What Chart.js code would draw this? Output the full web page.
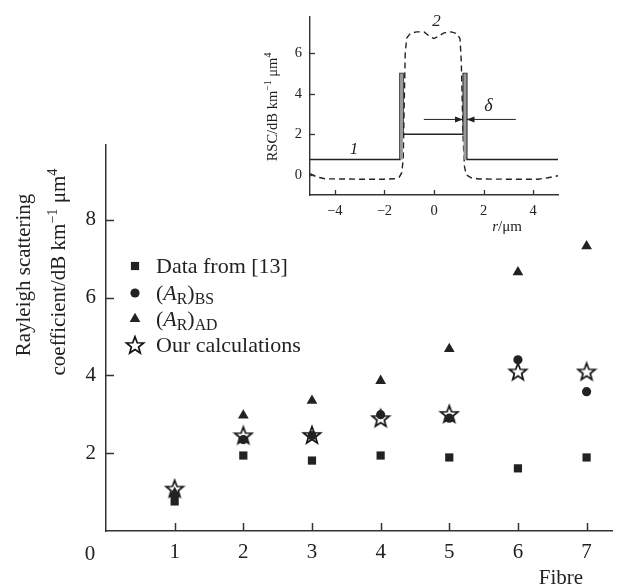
<!DOCTYPE html>
<html>
<head>
<meta charset="utf-8">
<script src="https://cdn.jsdelivr.net/npm/chart.js@4.4.1/dist/chart.umd.min.js"></script>
<style>
  body { margin: 0; background: #fff; }
  #wrap { position: relative; width: 621px; height: 587px; }
  #main { position: absolute; left: 0; top: 0; }
  #inset { position: absolute; left: 230px; top: 0; }
</style>
</head>
<body>
<div id="wrap">
  <canvas id="main" width="621" height="587"></canvas>
  <canvas id="inset" width="391" height="240"></canvas>
</div>
<script>
// Datos de la gráfica principal
var fibres = [1, 2, 3, 4, 5, 6, 7];
var data13 = [0.76, 1.94, 1.81, 1.94, 1.89, 1.61, 1.89];
var arBS = [0.92, 2.35, 2.45, 2.99, 2.90, 4.40, 3.58];
var arAD = [0.98, 2.97, 3.35, 3.86, 4.68, 6.65, 7.32];
var ourCalc = [1.09, 2.46, 2.47, 2.90, 3.01, 4.10, 4.10];
var xTickVals = [1, 2, 3, 4, 5, 6, 7];
var yTickVals = [2, 4, 6, 8];

// Datos del recuadro (perfil RSC)
var r1 = [-5, -1.37, -1.37, -1.25, -1.25, 1.18, 1.18, 1.32, 1.32, 5];
var rsc1 = [0.75, 0.75, 5, 5, 2, 2, 5, 5, 0.75, 0.75];
var spikeL = [-1.37, -1.25];
var spikeR = [1.18, 1.32];
var spikeTop = [5, 5];
var r2 = [-5, -4.7, -4.4, -3, -2, -1.6, -1.4, -1.3, -1.24, -1.2, -1.16, -1.1, -0.95, -0.7, -0.4, -0.2, 0, 0.2, 0.4, 0.7, 0.95, 1.05, 1.1, 1.14, 1.18, 1.23, 1.3, 1.5, 1.8, 3, 4.2, 4.6, 5];
var rsc2 = [0.05, -0.12, -0.2, -0.22, -0.22, -0.2, -0.12, 0.1, 0.8, 3.6, 6.0, 6.75, 6.98, 7.05, 7.05, 6.85, 6.72, 6.85, 7.0, 7.05, 6.95, 6.7, 5.6, 3.5, 1.6, 0.4, 0, -0.15, -0.21, -0.22, -0.22, -0.15, -0.05];
var deltaLeft = [-0.41, 1.17];
var deltaRight = [3.3, 1.31];
var deltaY = 2.73;
var insetXTicks = [-4, -2, 0, 2, 4];
var insetYTicks = [0, 2, 4, 6];

var INK = '#222';
var SERIF = '"Liberation Serif", "Times New Roman", serif';

function pts(xs, ys) {
  return xs.map(function (x, i) { return { x: x, y: ys[i] }; });
}
function fixedTicks(vals) {
  return function (scale) {
    scale.ticks = vals.map(function (v) { return { value: v }; });
  };
}

// estrella de cinco puntas (contorno)
function makeStar(rOut) {
  var c = document.createElement('canvas');
  var s = Math.ceil(rOut * 2 + 4);
  c.width = s; c.height = s;
  var g = c.getContext('2d');
  var rIn = rOut * 0.42;
  g.beginPath();
  for (var k = 0; k < 10; k++) {
    var r = k % 2 === 0 ? rOut : rIn;
    var a = -Math.PI / 2 + k * Math.PI / 5;
    var px = s / 2 + r * Math.cos(a), py = s / 2 + r * Math.sin(a) + 0.8;
    if (k === 0) g.moveTo(px, py); else g.lineTo(px, py);
  }
  g.closePath();
  g.strokeStyle = '#111';
  g.lineWidth = 1.7;
  g.lineJoin = 'miter';
  g.stroke();
  return c;
}
var starImg = makeStar(9);

function fontFor(style, size) {
  var sz = style === 'sup' ? size * 0.68 : (style === 'sub' ? size * 0.72 : size);
  var it = style === 'i' ? 'italic ' : '';
  return it + sz.toFixed(1) + 'px ' + SERIF;
}
function richText(ctx, parts, x, y, size, align) {
  var widths = parts.map(function (p) {
    ctx.font = fontFor(p[1], size);
    return ctx.measureText(p[0]).width;
  });
  var total = widths.reduce(function (a, b) { return a + b; }, 0);
  var cx = align === 'center' ? x - total / 2 : x;
  ctx.textAlign = 'left';
  ctx.textBaseline = 'alphabetic';
  parts.forEach(function (p, i) {
    ctx.font = fontFor(p[1], size);
    var dy = p[1] === 'sup' ? -size * 0.38 : (p[1] === 'sub' ? size * 0.2 : 0);
    ctx.fillText(p[0], cx, y + dy);
    cx += widths[i];
  });
}

// marcas de escala hacia dentro
var inwardTicks = {
  id: 'inwardTicks',
  afterDraw: function (chart, args, opts) {
    var ctx = chart.ctx, a = chart.chartArea;
    var xs = chart.scales.x, ys = chart.scales.y;
    ctx.save();
    ctx.strokeStyle = '#333';
    ctx.lineWidth = opts.width;
    opts.xTicks.forEach(function (v) {
      var px = Math.round(xs.getPixelForValue(v)) + 0.5;
      ctx.beginPath(); ctx.moveTo(px, a.bottom); ctx.lineTo(px, a.bottom - opts.len); ctx.stroke();
    });
    opts.yTicks.forEach(function (v) {
      var py = Math.round(ys.getPixelForValue(v)) + 0.5;
      ctx.beginPath(); ctx.moveTo(a.left, py); ctx.lineTo(a.left + opts.len, py); ctx.stroke();
    });
    ctx.restore();
  }
};

// textos de la gráfica principal
var mainText = {
  id: 'mainText',
  afterDraw: function (chart) {
    var ctx = chart.ctx;
    ctx.save();
    ctx.fillStyle = INK;
    // título del eje y (dos líneas)
    ctx.save();
    ctx.translate(30, 275);
    ctx.rotate(-Math.PI / 2);
    richText(ctx, [['Rayleigh scattering', '']], 0, 0, 21, 'center');
    ctx.restore();
    ctx.save();
    ctx.translate(65, 272);
    ctx.rotate(-Math.PI / 2);
    richText(ctx, [['coefficient/dB km', ''], ['\u22121', 'sup'], [' \u03bcm', ''], ['4', 'sup']], 0, 0, 21, 'center');
    ctx.restore();
    // "0" en la esquina y "Fibre"
    richText(ctx, [['0', '']], 90, 560, 21, 'center');
    richText(ctx, [['Fibre', '']], 561, 584, 21, 'center');
    // leyenda
    var rows = [
      { ds: 0, y: 266, parts: [['Data from [13]', '']] },
      { ds: 1, y: 293, parts: [['(', ''], ['A', 'i'], ['R', 'sub'], [')', ''], ['BS', 'sub']] },
      { ds: 2, y: 319, parts: [['(', ''], ['A', 'i'], ['R', 'sub'], [')', ''], ['AD', 'sub']] },
      { ds: 3, y: 345, parts: [['Our calculations', '']] }
    ];
    rows.forEach(function (row) {
      var d = chart.data.datasets[row.ds];
      ctx.fillStyle = INK;
      ctx.strokeStyle = INK;
      Chart.helpers.drawPoint(ctx, { pointStyle: d.pointStyle, radius: d.pointRadius, borderWidth: 0, rotation: 0 }, 135, row.y);
      richText(ctx, row.parts, 156, row.y + 7, 22, 'left');
    });
    ctx.restore();
  }
};

var markBase = { backgroundColor: INK, borderColor: INK, borderWidth: 0 };

new Chart(document.getElementById('main'), {
  type: 'scatter',
  data: {
    datasets: [
      Object.assign({ label: 'Data from [13]', data: pts(fibres, data13), pointStyle: 'rect', pointRadius: 5.8 }, markBase),
      Object.assign({ label: '(AR)BS', data: pts(fibres, arBS), pointStyle: 'circle', pointRadius: 4.6 }, markBase),
      Object.assign({ label: '(AR)AD', data: pts(fibres, arAD), pointStyle: 'triangle', pointRadius: 6.2 }, markBase),
      Object.assign({ label: 'Our calculations', data: pts(fibres, ourCalc), pointStyle: starImg, pointRadius: 9 }, markBase)
    ]
  },
  options: {
    responsive: false,
    animation: false,
    layout: { padding: { top: 145, right: 0, left: 0, bottom: 0 } },
    plugins: {
      legend: { display: false },
      tooltip: { enabled: false },
      inwardTicks: { xTicks: xTickVals, yTicks: yTickVals, len: 8, width: 1.5 }
    },
    scales: {
      x: {
        type: 'linear', min: 0, max: 7.37,
        afterBuildTicks: fixedTicks(xTickVals),
        afterFit: function (s) { s.height = 56; },
        grid: { display: true, drawOnChartArea: false, drawTicks: false },
        border: { display: true, color: '#333', width: 1.5 },
        ticks: {
          color: INK, padding: 9, maxRotation: 0, autoSkip: false,
          font: { family: SERIF, size: 21 },
          callback: function (v) { return String(v); }
        }
      },
      y: {
        min: 0, max: 9.92,
        afterBuildTicks: fixedTicks(yTickVals),
        afterFit: function (s) { s.width = 106; },
        grid: { display: true, drawOnChartArea: false, drawTicks: false },
        border: { display: true, color: '#333', width: 1.5 },
        ticks: {
          color: INK, padding: 10, autoSkip: false,
          font: { family: SERIF, size: 21 },
          callback: function (v) { return String(v); }
        }
      }
    }
  },
  plugins: [inwardTicks, mainText]
});

// textos y flechas del recuadro
var insetText = {
  id: 'insetText',
  afterDraw: function (chart) {
    var ctx = chart.ctx, xs = chart.scales.x, ys = chart.scales.y;
    ctx.save();
    ctx.fillStyle = INK;
    ctx.save();
    ctx.translate(47, 107);
    ctx.rotate(-Math.PI / 2);
    richText(ctx, [['RSC/dB km', ''], ['\u22121', 'sup'], [' \u03bcm', ''], ['4', 'sup']], 0, 0, 14.5, 'center');
    ctx.restore();
    richText(ctx, [['r', 'i'], ['/\u03bcm', '']], 277, 231, 15, 'center');
    richText(ctx, [['2', 'i']], xs.getPixelForValue(0.1), ys.getPixelForValue(7.64) + 6, 17, 'center');
    richText(ctx, [['1', 'i']], xs.getPixelForValue(-3.23), ys.getPixelForValue(1.33) + 6, 17, 'center');
    richText(ctx, [['\u03b4', 'i']], xs.getPixelForValue(2.19), ys.getPixelForValue(3.43) + 6, 18, 'center');
    // puntas de flecha
    var py = ys.getPixelForValue(deltaY);
    [[deltaLeft[1], 1], [deltaRight[1], -1]].forEach(function (h) {
      var px = xs.getPixelForValue(h[0]);
      ctx.beginPath();
      ctx.moveTo(px, py);
      ctx.lineTo(px - h[1] * 8, py - 3);
      ctx.lineTo(px - h[1] * 8, py + 3);
      ctx.closePath();
      ctx.fill();
    });
    ctx.restore();
  }
};

var lineBase = { showLine: true, pointRadius: 0, borderColor: INK, tension: 0, fill: false };

new Chart(document.getElementById('inset'), {
  type: 'scatter',
  data: {
    datasets: [
      // relleno gris de los picos de la curva 1
      { data: pts(spikeL, spikeTop), showLine: true, pointRadius: 0, borderWidth: 0, backgroundColor: '#9a9a9a', fill: { value: 0.75 } },
      { data: pts(spikeR, spikeTop), showLine: true, pointRadius: 0, borderWidth: 0, backgroundColor: '#9a9a9a', fill: { value: 0.75 } },
      Object.assign({ data: pts(r1, rsc1), borderWidth: 1.6 }, lineBase),
      Object.assign({ data: pts(r2, rsc2), borderWidth: 1.4, borderDash: [6, 4] }, lineBase),
      Object.assign({ data: pts(deltaLeft, [deltaY, deltaY]), borderWidth: 1 }, lineBase),
      Object.assign({ data: pts(deltaRight, [deltaY, deltaY]), borderWidth: 1 }, lineBase)
    ]
  },
  options: {
    responsive: false,
    animation: false,
    layout: { padding: { top: 13, right: 63, left: 0, bottom: 0 } },
    plugins: {
      legend: { display: false },
      tooltip: { enabled: false },
      filler: { propagate: false },
      inwardTicks: { xTicks: insetXTicks, yTicks: insetYTicks, len: 5, width: 1.3 }
    },
    scales: {
      x: {
        type: 'linear', min: -5, max: 5,
        afterBuildTicks: fixedTicks(insetXTicks),
        afterFit: function (s) { s.height = 45; },
        grid: { display: true, drawOnChartArea: false, drawTicks: false },
        border: { display: true, color: '#333', width: 1.4 },
        ticks: {
          color: INK, padding: 7, maxRotation: 0, autoSkip: false,
          font: { family: SERIF, size: 14.5 },
          callback: function (v) { return String(v).replace('-', '\u2212'); }
        }
      },
      y: {
        min: -1, max: 7.8,
        afterBuildTicks: fixedTicks(insetYTicks),
        afterFit: function (s) { s.width = 80; },
        grid: { display: true, drawOnChartArea: false, drawTicks: false },
        border: { display: true, color: '#333', width: 1.4 },
        ticks: {
          color: INK, padding: 8, autoSkip: false,
          font: { family: SERIF, size: 14.5 },
          callback: function (v) { return String(v); }
        }
      }
    }
  },
  plugins: [inwardTicks, insetText]
});
</script>
</body>
</html>
